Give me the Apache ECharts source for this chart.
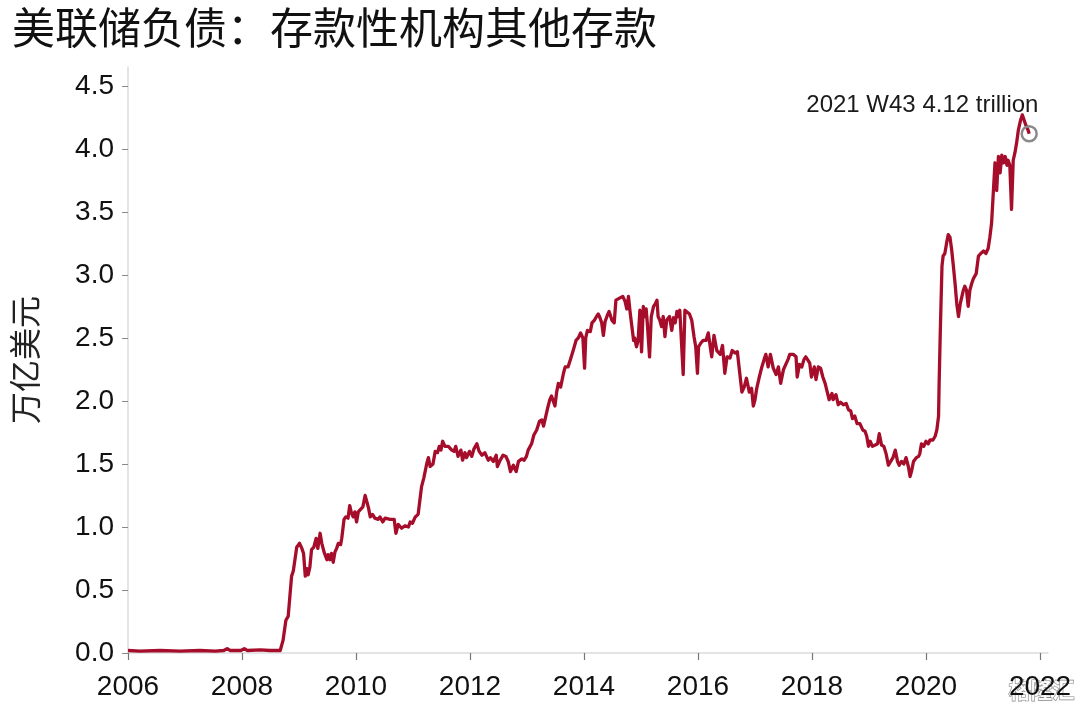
<!DOCTYPE html>
<html>
<head>
<meta charset="utf-8">
<script src="https://cdn.jsdelivr.net/npm/echarts@6/dist/echarts.min.js"></script>
<style>
html,body{margin:0;padding:0;background:#fff;}
#main{width:1080px;height:706px;}
</style>
</head>
<body>
<div id="main"></div>
<script>
// Decimal-year positions of observations (weekly data, sampled)
const weeks = [
2006.00,2006.21,2006.56,2006.91,2007.26,2007.53,2007.68,2007.74,2007.79,2007.98,2008.04,2008.09,2008.32,2008.49,2008.67,
2008.72,2008.77,2008.81,2008.87,2008.90,2008.96,2009.01,2009.05,2009.08,2009.11,2009.14,2009.16,2009.19,2009.22,2009.26,
2009.30,2009.33,2009.37,2009.40,2009.44,2009.49,2009.51,2009.54,2009.57,2009.60,2009.63,2009.66,2009.69,2009.73,2009.75,
2009.79,2009.82,2009.86,2009.89,2009.92,2009.95,2009.98,2010.01,2010.04,2010.07,2010.12,2010.16,2010.19,2010.22,2010.25,
2010.29,2010.33,2010.36,2010.39,2010.42,2010.47,2010.51,2010.54,2010.60,2010.67,2010.70,2010.74,2010.80,2010.86,2010.92,
2010.95,2010.99,2011.04,2011.09,2011.12,2011.15,2011.19,2011.24,2011.27,2011.30,2011.35,2011.39,2011.43,2011.46,2011.49,
2011.52,2011.56,2011.62,2011.68,2011.72,2011.75,2011.79,2011.84,2011.87,2011.91,2011.94,2011.99,2012.03,2012.07,2012.12,
2012.16,2012.21,2012.26,2012.32,2012.36,2012.41,2012.46,2012.48,2012.53,2012.58,2012.63,2012.67,2012.71,2012.76,2012.81,
2012.85,2012.91,2012.95,2012.99,2013.02,2013.08,2013.12,2013.17,2013.22,2013.26,2013.29,2013.32,2013.36,2013.40,2013.43,
2013.46,2013.49,2013.52,2013.55,2013.59,2013.64,2013.67,2013.72,2013.77,2013.81,2013.86,2013.90,2013.94,2013.98,2014.01,
2014.03,2014.06,2014.11,2014.14,2014.18,2014.22,2014.25,2014.28,2014.31,2014.34,2014.37,2014.41,2014.44,2014.49,2014.53,
2014.56,2014.60,2014.64,2014.68,2014.72,2014.75,2014.78,2014.81,2014.84,2014.87,2014.89,2014.92,2014.95,2014.98,2015.01,
2015.04,2015.06,2015.09,2015.11,2015.15,2015.18,2015.22,2015.25,2015.28,2015.30,2015.33,2015.36,2015.39,2015.42,2015.45,
2015.50,2015.54,2015.57,2015.60,2015.63,2015.65,2015.68,2015.71,2015.74,2015.77,2015.80,2015.85,2015.89,2015.93,2015.96,
2015.99,2016.01,2016.05,2016.09,2016.14,2016.18,2016.24,2016.28,2016.33,2016.39,2016.43,2016.47,2016.51,2016.56,2016.60,
2016.65,2016.69,2016.74,2016.77,2016.81,2016.85,2016.90,2016.94,2016.97,2017.00,2017.03,2017.07,2017.12,2017.16,2017.19,
2017.23,2017.27,2017.32,2017.37,2017.41,2017.45,2017.50,2017.54,2017.58,2017.61,2017.67,2017.72,2017.74,2017.78,2017.82,
2017.86,2017.89,2017.92,2017.96,2017.99,2018.04,2018.07,2018.11,2018.15,2018.19,2018.23,2018.26,2018.30,2018.35,2018.37,
2018.42,2018.46,2018.50,2018.55,2018.60,2018.64,2018.68,2018.71,2018.75,2018.79,2018.84,2018.89,2018.93,2018.96,2018.99,
2019.02,2019.06,2019.11,2019.15,2019.18,2019.22,2019.26,2019.30,2019.34,2019.37,2019.42,2019.46,2019.50,2019.53,2019.57,
2019.61,2019.65,2019.69,2019.72,2019.75,2019.78,2019.83,2019.87,2019.89,2019.92,2019.96,2020.00,2020.04,2020.07,2020.12,
2020.16,2020.19,2020.22,2020.23,2020.25,2020.26,2020.28,2020.30,2020.33,2020.36,2020.39,2020.42,2020.45,2020.48,2020.51,
2020.54,2020.57,2020.60,2020.63,2020.65,2020.68,2020.71,2020.74,2020.77,2020.80,2020.83,2020.88,2020.92,2020.96,2021.01,
2021.05,2021.09,2021.12,2021.15,2021.17,2021.19,2021.21,2021.24,2021.27,2021.30,2021.33,2021.36,2021.39,2021.42,2021.44,
2021.47,2021.50,2021.53,2021.56,2021.59,2021.62,2021.66,2021.69,2021.72,2021.75,2021.79,2021.81
];
// Other deposits held by depository institutions, trillion USD
const deposits = [
0.02,0.015,0.02,0.015,0.02,0.015,0.02,0.035,0.02,0.02,0.035,0.02,0.025,0.02,0.02,
0.10,0.26,0.29,0.61,0.65,0.84,0.87,0.83,0.79,0.61,0.67,0.62,0.68,0.82,0.84,
0.91,0.83,0.95,0.87,0.80,0.74,0.78,0.74,0.79,0.72,0.80,0.83,0.87,0.86,0.91,
1.06,1.08,1.07,1.17,1.11,1.08,1.12,1.04,1.12,1.13,1.16,1.25,1.20,1.15,1.08,
1.10,1.07,1.08,1.06,1.08,1.04,1.07,1.06,1.06,1.06,0.95,1.02,0.99,1.01,1.00,
1.04,1.03,1.08,1.10,1.21,1.32,1.39,1.50,1.55,1.48,1.50,1.60,1.59,1.64,1.61,
1.68,1.64,1.64,1.61,1.60,1.64,1.56,1.61,1.53,1.59,1.55,1.60,1.56,1.62,1.66,
1.60,1.57,1.59,1.53,1.55,1.52,1.57,1.48,1.53,1.57,1.56,1.52,1.44,1.49,1.44,
1.52,1.54,1.53,1.56,1.61,1.66,1.73,1.77,1.84,1.85,1.80,1.86,1.94,2.01,2.04,
2.05,1.96,2.07,2.14,2.11,2.22,2.27,2.27,2.34,2.40,2.48,2.50,2.54,2.50,2.26,
2.50,2.56,2.55,2.62,2.64,2.67,2.69,2.66,2.62,2.52,2.63,2.68,2.71,2.64,2.62,
2.80,2.81,2.82,2.83,2.79,2.73,2.83,2.70,2.59,2.48,2.50,2.43,2.48,2.72,2.39,
2.75,2.67,2.73,2.62,2.35,2.67,2.75,2.77,2.80,2.67,2.64,2.59,2.67,2.51,2.64,
2.67,2.56,2.66,2.62,2.71,2.67,2.72,2.73,2.21,2.72,2.71,2.69,2.64,2.51,2.43,
2.22,2.43,2.46,2.48,2.48,2.54,2.35,2.52,2.40,2.37,2.44,2.22,2.35,2.34,2.40,
2.38,2.39,2.19,2.07,2.11,2.18,2.07,2.10,1.96,2.01,2.10,2.18,2.27,2.33,2.37,
2.27,2.37,2.26,2.21,2.27,2.14,2.25,2.29,2.33,2.37,2.37,2.35,2.19,2.29,2.27,
2.33,2.35,2.33,2.30,2.19,2.27,2.17,2.27,2.26,2.19,2.14,2.13,2.01,2.06,2.01,
2.05,1.97,1.99,1.97,1.98,1.93,1.92,1.86,1.88,1.82,1.82,1.77,1.76,1.72,1.64,
1.68,1.64,1.65,1.66,1.74,1.65,1.64,1.58,1.49,1.48,1.55,1.61,1.52,1.49,1.52,
1.50,1.55,1.48,1.40,1.45,1.52,1.55,1.56,1.58,1.66,1.64,1.68,1.66,1.69,1.69,
1.72,1.77,1.88,2.14,2.54,2.72,3.07,3.15,3.17,3.25,3.32,3.30,3.20,3.07,2.93,
2.77,2.67,2.77,2.83,2.87,2.91,2.88,2.75,2.88,2.93,2.97,3.01,3.15,3.17,3.19,
3.17,3.21,3.30,3.41,3.57,3.73,3.89,3.67,3.94,3.81,3.95,3.89,3.94,3.87,3.91,
3.87,3.52,3.91,3.97,4.05,4.15,4.23,4.27,4.23,4.19,4.15,4.12
];
const yearTicks = [2006,2008,2010,2012,2014,2016,2018,2020,2022];
const valueTicks = [0,0.5,1,1.5,2,2.5,3,3.5,4,4.5];
const lastLabel = '2021 W43 4.12 trillion';
const titleText = '美联储负债：存款性机构其他存款';
const yName = '万亿美元';

const seriesData = weeks.map((w, i) => [w, deposits[i]]);
const last = seriesData[seriesData.length - 1];

const chart = echarts.init(document.getElementById('main'), null, {renderer: 'canvas'});
const latin = '"Liberation Sans", Arial, sans-serif';
const cjk = '"Noto Sans CJK SC", sans-serif';

chart.setOption({
  animation: false,
  backgroundColor: '#ffffff',
  title: {
    text: titleText,
    left: 7,
    top: 1,
    textStyle: {fontFamily: cjk, fontSize: 43, fontWeight: 'normal', color: '#111'}
  },
  grid: {left: 128, right: 32, top: 67, bottom: 53, containLabel: false, outerBoundsMode: 'none'},
  xAxis: {
    type: 'value',
    min: 2006,
    max: 2022.14,
    axisLine: {show: true, lineStyle: {color: '#dcdcdc', width: 1.5}},
    axisTick: {show: true, customValues: yearTicks, length: 7, lineStyle: {color: '#777', width: 1.2}},
    axisLabel: {customValues: yearTicks, fontFamily: latin, fontSize: 28, color: '#111', margin: 20,
      formatter: v => String(Math.round(v))},
    splitLine: {show: false}
  },
  yAxis: {
    type: 'value',
    min: 0,
    max: 4.65,
    name: yName,
    nameLocation: 'middle',
    nameRotate: 90,
    nameGap: 87,
    nameTextStyle: {fontFamily: cjk, fontSize: 32, color: '#222'},
    axisLine: {show: true, lineStyle: {color: '#dcdcdc', width: 1.5}},
    axisTick: {show: true, customValues: valueTicks, length: 6, lineStyle: {color: '#888', width: 1}},
    axisLabel: {customValues: valueTicks, fontFamily: latin, fontSize: 28, color: '#111', margin: 14,
      formatter: v => v.toFixed(1)},
    splitLine: {show: false}
  },
  series: [{
    type: 'line',
    data: seriesData,
    showSymbol: false,
    smooth: false,
    lineStyle: {color: '#A50D2A', width: 3.3, join: 'round'},
    itemStyle: {color: '#A50D2A'},
    markPoint: {
      symbol: 'circle',
      symbolSize: 15,
      silent: true,
      itemStyle: {color: 'rgba(0,0,0,0)', borderColor: '#8a8a8a', borderWidth: 2.5},
      label: {
        show: true,
        formatter: lastLabel,
        position: [18, -20],
        align: 'right',
        verticalAlign: 'middle',
        fontFamily: latin,
        fontSize: 24,
        color: '#1a1a1a'
      },
      data: [{coord: last, value: last[1]}]
    }
  }],
  graphic: [{
    type: 'text',
    right: 5,
    bottom: 5,
    style: {text: '格隆汇', fontFamily: cjk, fontSize: 22, fontWeight: 'bold', fill: 'rgba(255,255,255,0.9)',
      stroke: 'rgba(90,90,90,0.75)', lineWidth: 1.2}
  }]
});
</script>
</body>
</html>
